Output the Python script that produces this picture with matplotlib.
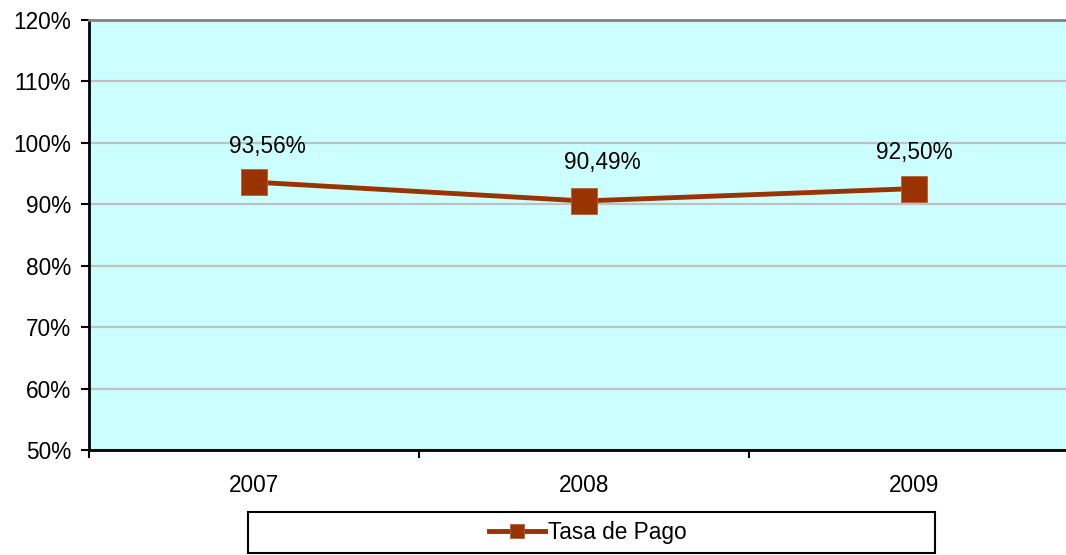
import matplotlib
matplotlib.use("Agg")
import matplotlib.pyplot as plt
from matplotlib.patches import Rectangle
from matplotlib.ticker import FixedLocator, NullFormatter, FixedFormatter

categories = ["2007", "2008", "2009"]
values = [93.56, 90.49, 92.50]
value_labels = ["93,56%", "90,49%", "92,50%"]
y_ticks = [50, 60, 70, 80, 90, 100, 110, 120]
y_tick_labels = ["50%", "60%", "70%", "80%", "90%", "100%", "110%", "120%"]
series_name = "Tasa de Pago"

plt.rcParams['font.family'] = ['Liberation Sans', 'DejaVu Sans']
FS = 16.3
LINE_COLOR = "#993300"

W, H = 1066, 555
fig = plt.figure(figsize=(W / 100, H / 100), dpi=100)
left, right, top, bottom = 89, 1079, 19.5, 450
ax = fig.add_axes([left / W, (H - bottom) / H, (right - left) / W, (bottom - top) / H])
ax.set_facecolor("#CCFFFF")

x = list(range(len(categories)))
ax.plot(x, values, color=LINE_COLOR, lw=3.5, marker="s", markersize=19,
        markerfacecolor=LINE_COLOR, markeredgecolor="#b5603a", markeredgewidth=0.6,
        label=series_name, zorder=5, solid_joinstyle="miter")

label_dx = [13, 18, 0]
label_dy = [36, 38, 36]
for xi, v, t, dx, dy in zip(x, values, value_labels, label_dx, label_dy):
    ax.annotate(t, (xi, v), xytext=(dx * 0.72, dy * 0.72), textcoords="offset points",
                ha="center", va="center", fontsize=FS, color="black", zorder=6)

ax.set_xlim(-0.5, len(categories) - 0.5)
ax.set_ylim(50, 120)

ax.set_yticks(y_ticks)
ax.set_yticklabels(y_tick_labels)
ax.yaxis.grid(True, color="#C0C0C0", lw=1.6, zorder=0)
ax.set_axisbelow(True)

ax.xaxis.set_major_locator(FixedLocator([i - 0.5 for i in range(len(categories) + 1)]))
ax.xaxis.set_major_formatter(NullFormatter())
ax.xaxis.set_minor_locator(FixedLocator(x))
ax.xaxis.set_minor_formatter(FixedFormatter(categories))
ax.tick_params(axis="x", which="minor", length=0, pad=17, labelsize=FS)
ax.tick_params(axis="x", which="major", length=6, width=1.5, direction="out", color="black")
ax.tick_params(axis="y", length=6, width=1.5, direction="out", pad=7, labelsize=FS, color="black")

for s in ["left", "bottom"]:
    ax.spines[s].set_color("black")
    ax.spines[s].set_linewidth(2)
ax.spines["right"].set_visible(False)
ax.spines["top"].set_color("#808080")
ax.spines["top"].set_linewidth(2)

# legend box
bx0, bx1, by0, by1 = 248, 935, 512, 553
fig.patches.append(Rectangle((bx0 / W, (H - by1) / H), (bx1 - bx0) / W, (by1 - by0) / H,
                             transform=fig.transFigure, fill=False, edgecolor="black", lw=1.5))
leg = fig.legend(loc="center", bbox_to_anchor=(((bx0 + bx1) / 2 - 4) / W, (H - (by0 + by1) / 2) / H),
                 frameon=False, fontsize=FS, handlelength=2.5, handletextpad=0.1,
                 borderpad=0, borderaxespad=0)
for h in leg.legend_handles:
    h.set_markersize(10)

fig.savefig("out.png", dpi=100)
